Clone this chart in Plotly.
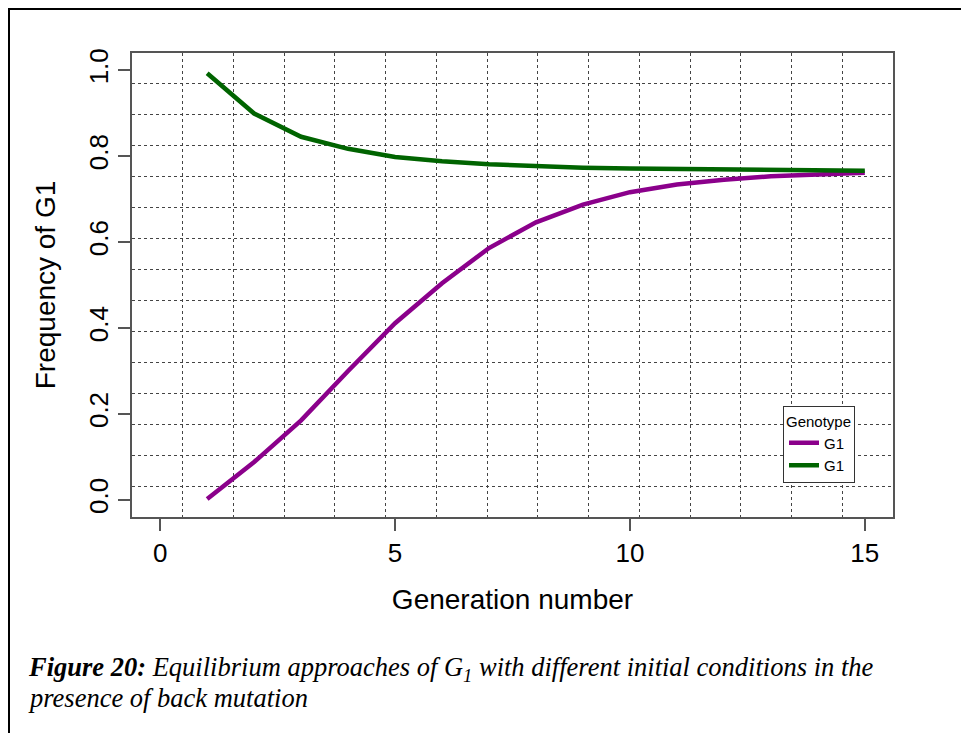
import plotly.graph_objects as go

generations = list(range(1, 16))
g1_from_low = [0.002, 0.088, 0.185, 0.300, 0.411, 0.504, 0.586, 0.646, 0.687,
               0.716, 0.734, 0.745, 0.753, 0.758, 0.761]
g1_from_high = [0.993, 0.899, 0.845, 0.817, 0.798, 0.788, 0.781, 0.776, 0.773,
                0.771, 0.770, 0.768, 0.767, 0.767, 0.766]
x_ticks = [0, 5, 10, 15]
y_ticks = [0.0, 0.2, 0.4, 0.6, 0.8, 1.0]
y_tick_text = ["0.0", "0.2", "0.4", "0.6", "0.8", "1.0"]

xr = [-0.6, 15.6]
yr = [-0.04, 1.04]
n_grid = 15

FONT = "Liberation Sans, Arial, sans-serif"

fig = go.Figure()
fig.add_trace(go.Scatter(x=generations, y=g1_from_low, mode="lines", name="G1",
                         line=dict(color="#8B008B", width=4.5)))
fig.add_trace(go.Scatter(x=generations, y=g1_from_high, mode="lines", name="G1",
                         line=dict(color="#006400", width=4.5)))

# page has an 8px body margin: figure origin sits at page (8, 8)
OFF = 8
W, H = 969 - OFF, 733 - OFF
L, T = 132 - OFF, 53 - OFF
R = W - (893 - OFF)
B = H - (517 - OFF)

grid_common = dict(showgrid=True, griddash="dot", gridcolor="#444", gridwidth=1, ticks="")

fig.update_layout(
    width=W, height=H,
    margin=dict(l=L, r=R, t=T, b=B, pad=0),
    paper_bgcolor="white", plot_bgcolor="white",
    font=dict(family=FONT, color="black", size=14),
    xaxis=dict(range=xr, tickmode="array", tickvals=x_ticks,
               ticks="outside", ticklen=12, tickcolor="#555", tickwidth=1.5,
               showgrid=False, zeroline=False,
               minor=dict(tickmode="linear", tick0=xr[0], dtick=(xr[1] - xr[0]) / n_grid,
                          **grid_common),
               showline=True, mirror=True, linecolor="#555", linewidth=1.5,
               tickfont=dict(size=26, family=FONT),
               title=dict(text="Generation number", font=dict(size=28, family=FONT),
                          standoff=22)),
    yaxis=dict(range=yr, tickmode="array", tickvals=y_ticks, ticktext=y_tick_text,
               ticks="outside", ticklen=12, tickangle=-90, tickcolor="#555", tickwidth=1.5,
               showgrid=False, zeroline=False,
               minor=dict(tickmode="linear", tick0=yr[0], dtick=(yr[1] - yr[0]) / n_grid,
                          **grid_common),
               showline=True, mirror=True, linecolor="#555", linewidth=1.5,
               tickfont=dict(size=26, family=FONT),
               title=dict(text="Frequency of G1", font=dict(size=28, family=FONT),
                          standoff=20)),
    legend=dict(x=(783 - OFF - L) / (W - L - R), y=(H - B - (406 - OFF)) / (H - T - B),
                xanchor="left", yanchor="top",
                title=dict(text="Genotype", font=dict(size=15, family=FONT), side="top"),
                font=dict(size=15, family=FONT),
                bgcolor="white", bordercolor="#333", borderwidth=1,
                itemwidth=30, tracegroupgap=0),
    showlegend=True,
)

pw, ph = W - L - R, H - T - B
def px_x(p):
    return (p - OFF - L) / pw
def px_y(p):
    return (H - B - (p - OFF)) / ph

fig.add_shape(type="rect", xref="paper", yref="paper",
              x0=px_x(9), x1=px_x(969 + 20), y0=px_y(733 + 20), y1=px_y(9),
              line=dict(color="black", width=2), fillcolor="rgba(0,0,0,0)", layer="above")

SERIF = "Liberation Serif, Times New Roman, serif"
fig.add_annotation(xref="paper", yref="paper", x=px_x(26), y=px_y(669),
                   xanchor="left", yanchor="middle", showarrow=False, align="left",
                   text="<b><i>Figure 20:</i></b><i> Equilibrium approaches of G<sub>1</sub> with different initial conditions in the</i>",
                   font=dict(family=SERIF, size=26.5, color="black"))
fig.add_annotation(xref="paper", yref="paper", x=px_x(26), y=px_y(698),
                   xanchor="left", yanchor="middle", showarrow=False, align="left",
                   text="<i>presence of back mutation</i>",
                   font=dict(family=SERIF, size=26.5, color="black"))

fig.write_html("out.html")
